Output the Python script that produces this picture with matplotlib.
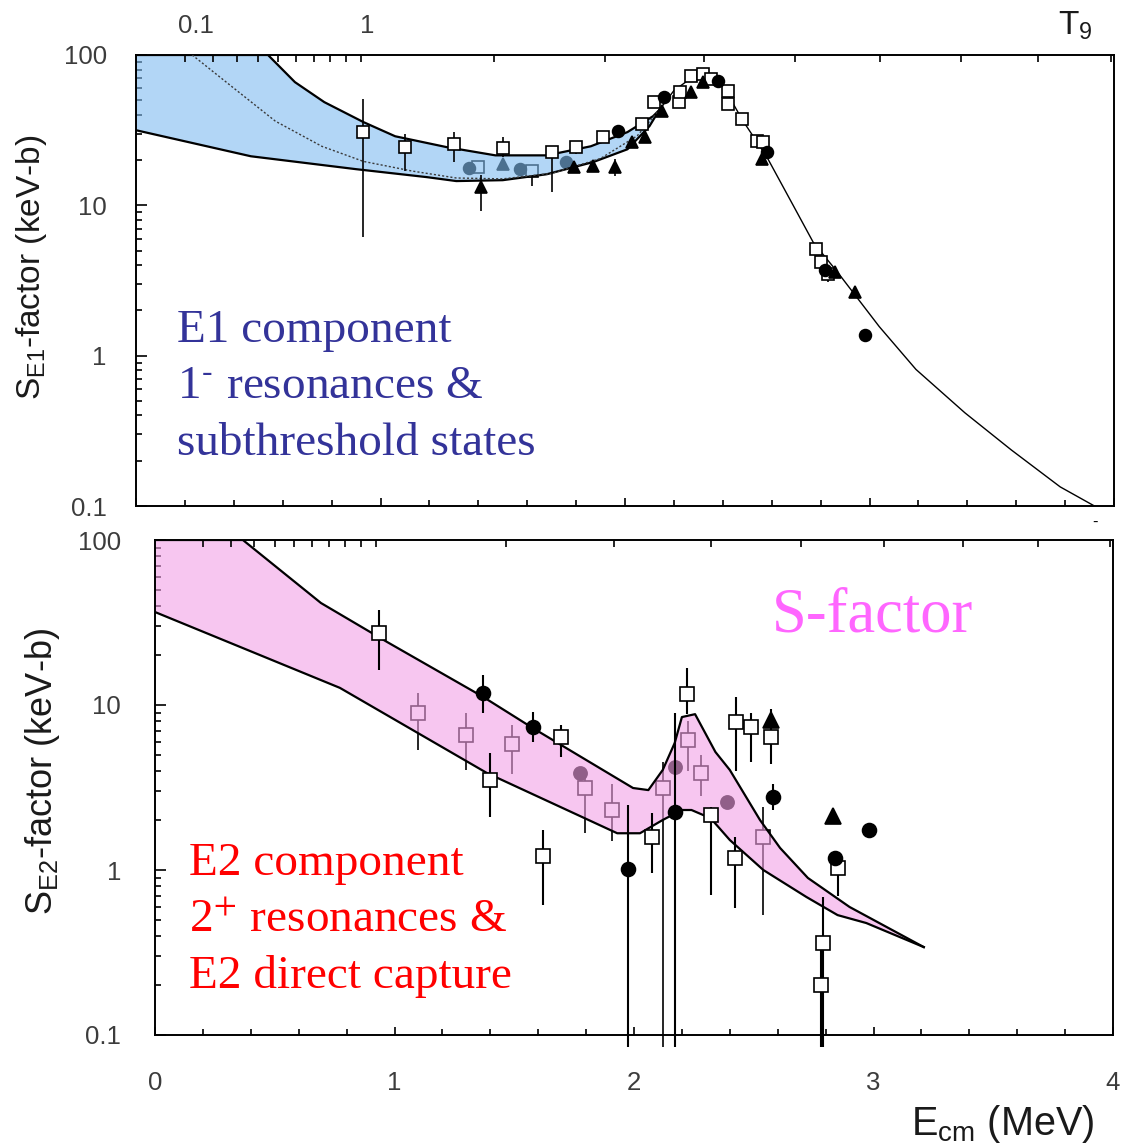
import numpy as np
import matplotlib.pyplot as plt
from matplotlib.ticker import LogLocator, NullFormatter

plt.rcParams['font.family'] = ['Liberation Sans', 'DejaVu Sans']
plt.rcParams['mathtext.fontset'] = 'custom'
plt.rcParams['mathtext.rm'] = 'Liberation Sans'
plt.rcParams['mathtext.it'] = 'Liberation Sans:italic'
plt.rcParams['mathtext.bf'] = 'Liberation Sans:bold'

# ---------------- E1 panel ----------------
# band edges (upper / lower)
e1_up_x = [0.0, 0.54, 0.65, 0.77, 0.93, 1.06, 1.27, 1.47, 1.68, 1.86, 2.01, 2.115, 2.14]
e1_up_y = [100, 100, 66, 48.6, 35.8, 28.8, 24.4, 21.5, 21.5, 24.7, 30.7, 39.2, 43]
e1_lo_x = [0.0, 0.47, 0.90, 1.19, 1.31, 1.50, 1.68, 1.87, 2.01, 2.10, 2.14]
e1_lo_y = [31.6, 21.2, 17.4, 15.4, 14.5, 14.7, 16.1, 19.4, 23.6, 33.6, 43]

# fit curve
fit_x = [0.23, 0.39, 0.57, 0.76, 0.93, 1.13, 1.31, 1.50, 1.70, 1.90, 2.05, 2.14,
         2.20, 2.27, 2.33, 2.38, 2.42, 2.48, 2.58, 2.69, 2.77, 2.87, 3.04, 3.19,
         3.39, 3.58, 3.78, 3.92]
fit_y = [100, 62, 36.3, 24.7, 19.6, 16.9, 15.2, 15.0, 16.3, 20.5, 29, 43,
         58, 70, 75, 69, 55, 37, 21, 9.85, 5.67, 3.58, 1.56, 0.81,
         0.417, 0.236, 0.134, 0.1]
n_dot = 12  # points of the fit that lie inside the band

# open squares
e1_sq_x = [0.93, 1.10, 1.30, 1.50, 1.70, 1.80, 1.91, 2.07, 2.12, 2.22, 2.225, 2.27,
           2.32, 2.35, 2.42, 2.42, 2.48, 2.54, 2.565, 2.78, 2.80, 2.83]
e1_sq_y = [30.7, 24.4, 25.5, 24.0, 22.6, 24.4, 28.4, 34.7, 48.6, 48.6, 56.6, 72.4,
           74.7, 69.2, 57.5, 47.1, 37.4, 26.7, 26.3, 5.09, 4.2, 3.47]
e1_sq_lo = [6.2, 16.9, 19.4, 21.0, 12.2, 22.0, 28.4, 34.7, 48.6, 48.6, 56.6, 72.4,
            74.7, 69.2, 57.5, 47.1, 37.4, 26.7, 26.3, 5.09, 4.2, 3.1]
e1_sq_hi = [50.9, 29.7, 30.7, 28.4, 24.5, 24.4, 28.4, 34.7, 48.6, 48.6, 56.6, 72.4,
            74.7, 69.2, 57.5, 47.1, 37.4, 26.7, 26.3, 5.09, 4.2, 3.9]
# filled circles
e1_ci_x = [1.97, 2.16, 2.38, 2.58, 2.82, 2.98]
e1_ci_y = [31.1, 52.5, 67.1, 22.6, 3.74, 1.38]
# filled triangles
e1_tr_x = [1.41, 1.79, 1.87, 1.96, 2.03, 2.08, 2.15, 2.27, 2.32, 2.56, 2.86, 2.94]
e1_tr_y = [13.2, 17.9, 18.2, 17.9, 26.3, 28.4, 42.4, 56.6, 66, 20.3, 3.58, 2.67]
e1_tr_lo = [9.1, 16.5, 18.2, 15.6, 26.3, 28.4, 42.4, 56.6, 66, 20.3, 3.58, 2.67]
e1_tr_hi = [16.0, 19.4, 18.2, 20.3, 26.3, 28.4, 42.4, 56.6, 66, 20.3, 3.58, 2.67]
# points seen through the band
e1_bsq_x = [1.40, 1.62]
e1_bsq_y = [17.9, 16.9]
e1_bsq_lo = [17.9, 13.4]
e1_bci_x = [1.36, 1.57, 1.76]
e1_bci_y = [17.7, 17.4, 19.4]
e1_btr_x = [1.50]
e1_btr_y = [18.8]

# ---------------- E2 panel ----------------
e2_up_x = [0.0, 0.367, 0.693, 0.969, 1.37, 1.578, 1.996, 2.06, 2.12, 2.17, 2.20,
           2.255, 2.34, 2.40, 2.526, 2.61, 2.726, 2.90, 3.21]
e2_up_y = [100, 100, 41.5, 24.1, 11.2, 7.24, 3.14, 3.05, 4.04, 5.89, 8.45,
           8.8, 5.19, 4.04, 2.01, 1.36, 0.895, 0.597, 0.341]
e2_lo_x = [0.0, 0.772, 1.386, 1.93, 2.025, 2.12, 2.20, 2.24, 2.32, 2.40, 2.54,
           2.72, 2.85, 2.97, 3.21]
e2_lo_y = [36.6, 12.7, 3.87, 1.67, 1.67, 2.01, 2.31, 2.31, 2.06, 1.52, 1.0,
           0.686, 0.533, 0.477, 0.341]

e2_sq_x = [0.935, 1.40, 1.62, 1.695, 2.075, 2.22, 2.32, 2.42, 2.425, 2.49, 2.57,
           2.85, 2.79, 2.78]
e2_sq_y = [27.3, 3.51, 1.22, 6.4, 1.58, 11.7, 2.15, 1.18, 7.89, 7.36, 6.4,
           1.03, 0.361, 0.2]
e2_sq_lo = [16.3, 2.1, 0.614, 4.84, 0.96, 8.8, 0.705, 0.589, 4.0, 4.5, 4.4,
            0.7, 0.085, 0.085]
e2_sq_hi = [37.7, 5.12, 1.75, 7.57, 2.21, 16.7, 2.4, 1.58, 11.2, 9.0, 7.5,
            1.2, 0.69, 0.36]
e2_ci_x = [1.37, 1.58, 1.975, 2.17, 2.58, 2.84, 2.98]
e2_ci_y = [11.8, 7.36, 1.01, 2.25, 2.77, 1.18, 1.75]
e2_ci_lo = [9.0, 6.0, 0.085, 0.085, 2.3, 1.18, 1.75]
e2_ci_hi = [15.2, 9.08, 2.48, 8.9, 3.3, 1.18, 1.75]
e2_tr_x = [2.57, 2.83]
e2_tr_y = [8.1, 2.12]
e2_tr_hi = [9.5, 2.12]
e2_bsq_x = [1.098, 1.30, 1.49, 1.795, 1.91, 2.12, 2.225, 2.28, 2.54]
e2_bsq_y = [8.95, 6.58, 5.81, 3.14, 2.31, 3.14, 6.14, 3.87, 1.58]
e2_bsq_lo = [5.33, 4.04, 3.8, 1.67, 1.5, 0.085, 4.0, 2.8, 0.533]
e2_bsq_hi = [11.8, 8.95, 7.6, 4.0, 3.3, 4.5, 8.0, 5.0, 2.4]
e2_bci_x = [1.775, 2.17, 2.39]
e2_bci_y = [3.87, 4.2, 2.58]

# temperature scale on top: Gamow energy E0 = 0.922 T9^(2/3) MeV
t9_major = [0.1, 1]
t9_major_lab = ['0.1', '1']
t9_minor = [0.2, 0.3, 0.4, 0.5, 0.6, 0.7, 0.8, 0.9, 2, 3, 4, 5, 6, 7, 8, 9]

fig = plt.figure(figsize=(11.31, 11.44), dpi=100)
ax1 = fig.add_axes([136 / 1131, 1 - 506 / 1144, 978 / 1131, 451 / 1144])
ax2 = fig.add_axes([155 / 1131, 1 - 1035 / 1144, 958 / 1131, 495 / 1144])


def frame(ax, ypad):
    ax.set_xlim(0, 4)
    ax.set_yscale('log')
    ax.set_ylim(0.1, 100)
    ax.set_xticks([0, 1, 2, 3, 4])
    ax.set_xticks(np.arange(1, 20) * 0.2, minor=True)
    ax.set_yticks([0.1, 1, 10, 100], ['0.1', '1', '10', '100'])
    ax.yaxis.set_minor_locator(LogLocator(base=10, subs=np.arange(2, 10)))
    ax.yaxis.set_minor_formatter(NullFormatter())
    ax.tick_params(which='both', direction='in', top=False, right=False,
                   width=1.2, labelcolor='#3c3c3c', labelsize=18.5)
    ax.tick_params(axis='y', which='major', length=8, pad=ypad)
    ax.tick_params(axis='y', which='minor', length=4.5)
    ax.tick_params(axis='x', which='major', length=6, pad=26)
    ax.tick_params(axis='x', which='minor', length=4.5)
    for s in ax.spines.values():
        s.set_linewidth(1.4)
    tw = ax.twiny()
    tw.set_xlim(0, 4)
    tw.set_xticks(0.922 * np.array(t9_major) ** (2 / 3), ['', ''])
    tw.set_xticks(0.922 * np.array(t9_minor) ** (2 / 3), minor=True)
    tw.tick_params(which='both', direction='in', width=1.2, length=5)
    for s in tw.spines.values():
        s.set_visible(False)


def band(ax, ux, uy, lx, ly, color):
    ax.fill(np.r_[ux, lx[::-1]], np.r_[uy, ly[::-1]], color=color, alpha=0.6,
            lw=0, zorder=2)
    ax.plot(ux, uy, color='black', lw=1.6, zorder=3)
    ax.plot(lx, ly, color='black', lw=1.6, zorder=3)


def points(ax, x, y, marker, ms, face, z, lo=None, hi=None, lw=1.2):
    if lo is not None or hi is not None:
        lo = y if lo is None else lo
        hi = y if hi is None else hi
        ax.vlines(x, lo, hi, colors='black', lw=lw, zorder=z - 0.5, clip_on=False)
    ax.plot(x, y, ls='none', marker=marker, ms=ms, mfc=face, mec='black',
            mew=1.2, zorder=z)


# ---- top panel ----
frame(ax1, 21)
ax1.tick_params(axis='x', labelbottom=False)
for t, lab, dx in zip(t9_major, t9_major_lab, [8, 4]):
    ax1.annotate(lab, xy=(0.922 * t ** (2 / 3), 1), xycoords=('data', 'axes fraction'),
                 xytext=(dx, 12), textcoords='offset points', ha='center',
                 va='bottom', size=18.5, color='#3c3c3c')
points(ax1, e1_bsq_x, e1_bsq_y, 's', 8, 'white', 1, lo=e1_bsq_lo)
points(ax1, e1_bci_x, e1_bci_y, 'o', 8.5, 'black', 1)
points(ax1, e1_btr_x, e1_btr_y, '^', 9, 'black', 1)
band(ax1, e1_up_x, e1_up_y, e1_lo_x, e1_lo_y, '#80bcf0')
ax1.plot(fit_x[:n_dot], fit_y[:n_dot], ls=(0, (1.5, 1.5)), color='#3a3a3a',
         lw=1.0, zorder=3)
ax1.plot(fit_x[n_dot - 1:], fit_y[n_dot - 1:], color='black', lw=1.0, zorder=3)
points(ax1, e1_sq_x, e1_sq_y, 's', 8, 'white', 6, lo=e1_sq_lo, hi=e1_sq_hi)
points(ax1, e1_ci_x, e1_ci_y, 'o', 8.5, 'black', 6)
points(ax1, e1_tr_x, e1_tr_y, '^', 9, 'black', 6, lo=e1_tr_lo, hi=e1_tr_hi)

# ---- bottom panel ----
frame(ax2, 24.5)
points(ax2, e2_bsq_x, e2_bsq_y, 's', 9.5, 'white', 1, lo=e2_bsq_lo, hi=e2_bsq_hi)
points(ax2, e2_bci_x, e2_bci_y, 'o', 9.5, 'black', 1)
band(ax2, e2_up_x, e2_up_y, e2_lo_x, e2_lo_y, '#f3a0e6')
points(ax2, e2_sq_x, e2_sq_y, 's', 9.5, 'white', 6, lo=e2_sq_lo, hi=e2_sq_hi, lw=1.5)
points(ax2, e2_ci_x, e2_ci_y, 'o', 10, 'black', 6, lo=e2_ci_lo, hi=e2_ci_hi, lw=1.5)
points(ax2, e2_tr_x, e2_tr_y, '^', 11, 'black', 6, hi=e2_tr_hi, lw=1.5)

# ---- labels ----
fig.text(32 / 1131, 1 - 267 / 1144, r'S$_{\mathrm{E1}}$-factor (keV-b)', rotation=90,
         ha='center', va='center', size=24, color='#1a1a1a')
fig.text(43 / 1131, 1 - 771 / 1144, r'S$_{\mathrm{E2}}$-factor (keV-b)', rotation=90,
         ha='center', va='center', size=26, color='#1a1a1a')
fig.text(911 / 1131, 1 - 1135 / 1144, r'E$_{\mathrm{cm}}$ (MeV)', size=28.5,
         va='baseline', ha='left', color='#1a1a1a')
fig.text(1058 / 1131, 1 - 35 / 1144, r'T$_{9}$', size=24, va='baseline',
         ha='left', color='#1a1a1a')
fig.text(1095 / 1131, 1 - 522 / 1144, '-', size=12, ha='center', va='center')

serif = dict(family=['Liberation Serif', 'DejaVu Serif'], size=34, va='baseline',
             ha='left', math_fontfamily='stix')
blue = '#333399'
fig.text(177 / 1131, 1 - 342 / 1144, 'E1 component', color=blue, **serif)
fig.text(177 / 1131, 1 - 398 / 1144, '1$^{\u2010}$ resonances &', color=blue, **serif)
fig.text(177 / 1131, 1 - 455 / 1144, 'subthreshold states', color=blue, **serif)

red = '#ff0000'
fig.text(189 / 1131, 1 - 875 / 1144, 'E2 component', color=red, **serif)
fig.text(189 / 1131, 1 - 932 / 1144, r'2$^{+}$ resonances &', color=red, **serif)
fig.text(189 / 1131, 1 - 988 / 1144, 'E2 direct capture', color=red, **serif)

fig.text(772 / 1131, 1 - 632 / 1144, 'S-factor', color='#ff66ff',
         family=['Liberation Serif', 'DejaVu Serif'], size=45, va='baseline', ha='left')

fig.savefig('out.png', dpi=100, facecolor='white')
